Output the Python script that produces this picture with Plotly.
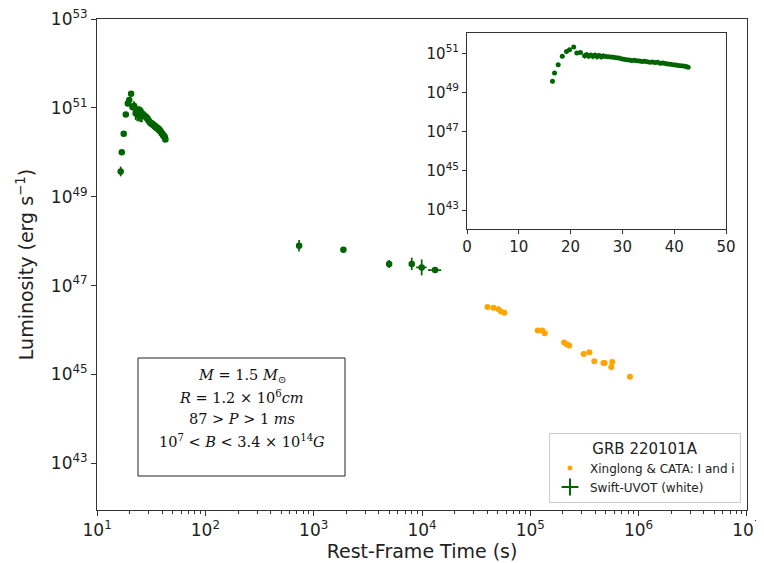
import plotly.graph_objects as go

# ---- data ----
# Swift-UVOT early (rest-frame s, log10 L)
uvot_t_early = [16.5, 16.9, 17.6, 18.4, 19.2, 19.8, 20.6, 21.2, 21.9, 22.7, 23.1, 23.5, 23.9, 24.3,
                24.7, 25.1, 25.5, 25.9, 26.3, 26.8, 27.3, 27.8, 28.3, 28.8, 29.3, 29.8, 30.3, 30.8,
                31.3, 31.8, 32.3, 32.8, 33.3, 33.8, 34.3, 34.8, 35.3, 35.8, 36.3, 36.8, 37.3, 37.8,
                38.3, 38.8, 39.3, 39.8, 40.3, 40.8, 41.3, 41.8, 42.3, 42.7]
uvot_logL_early = [49.57, 50.00, 50.42, 50.85, 51.10, 51.18, 51.32, 51.02, 51.05, 50.88, 50.93, 50.86,
                   50.91, 50.85, 50.90, 50.84, 50.89, 50.83, 50.87, 50.84, 50.83, 50.81, 50.80, 50.77,
                   50.76, 50.72, 50.70, 50.67, 50.66, 50.64, 50.65, 50.62, 50.61, 50.59, 50.60, 50.57,
                   50.55, 50.56, 50.53, 50.54, 50.50, 50.51, 50.48, 50.46, 50.45, 50.42, 50.41, 50.38,
                   50.37, 50.36, 50.33, 50.29]
uvot_err_early = [0.11, 0.04, 0.04, 0.04, 0.05, 0.05, 0.06, 0.08, 0.10, 0.15, 0.14, 0.16, 0.13, 0.15,
                  0.14, 0.16, 0.13, 0.15, 0.12, 0.08, 0.06, 0.05, 0.05, 0.05, 0.04, 0.04, 0.04, 0.04,
                  0.04, 0.04, 0.04, 0.04, 0.04, 0.04, 0.04, 0.04, 0.04, 0.04, 0.04, 0.04, 0.04, 0.04,
                  0.04, 0.04, 0.04, 0.04, 0.04, 0.04, 0.04, 0.04, 0.04, 0.04]
# Swift-UVOT late
uvot_t_late = [733, 1880, 4970, 8040, 9930, 13200]
uvot_logL_late = [47.90, 47.81, 47.49, 47.49, 47.41, 47.35]
uvot_err_late = [0.13, 0.03, 0.09, 0.14, 0.18, 0.03]
uvot_terr_late = [0, 0, 0, 0, 1100, 1850]

# Xinglong & CATA
opt_t = [40200, 45600, 50800, 53700, 57700, 117000, 129000, 136000, 205000, 217000, 229000,
         311000, 351000, 390000, 473000, 486000, 571000, 560000, 832000]
opt_logL = [46.52, 46.50, 46.47, 46.42, 46.39, 45.99, 45.99, 45.93, 45.72, 45.68, 45.65,
            45.46, 45.50, 45.30, 45.26, 45.26, 45.28, 45.17, 44.95]

x_tick_exp = [1, 2, 3, 4, 5, 6, 7]
y_tick_exp = [43, 45, 47, 49, 51, 53]
inset_y_tick_exp = [43, 45, 47, 49, 51]
inset_x_ticks = [0, 10, 20, 30, 40, 50]

box_lines = ["<i>M</i> = 1.5 <i>M</i><sub>⊙</sub>",
             "<i>R</i> = 1.2 × 10<sup>6</sup><i>cm</i>",
             "87 &gt; <i>P</i> &gt; 1 <i>ms</i>",
             "10<sup>7</sup> &lt; <i>B</i> &lt; 3.4 × 10<sup>14</sup><i>G</i>"]

GREEN = "#006400"
ORANGE = "#FFA500"


def to_lin(logs):
    return [10.0 ** v for v in logs]


def err_up(logs, errs):
    return [10.0 ** (v + e) - 10.0 ** v for v, e in zip(logs, errs)]


def err_dn(logs, errs):
    return [10.0 ** v - 10.0 ** (v - e) for v, e in zip(logs, errs)]


# the page body adds an 8px margin before the figure
OFF = 8
W, H = 764 - OFF, 563 - OFF
PL, PR, PT, PB = 97, 747, 19, 510   # plot area in screen pixels
pw, ph = PR - PL, PB - PT


def px_x(sx):
    return (sx - PL) / pw


def px_y(sy):
    return (PB - sy) / ph


fig = go.Figure()

t_all = uvot_t_early + uvot_t_late
l_all = uvot_logL_early + uvot_logL_late
e_all = uvot_err_early + uvot_err_late
terr_all = [0] * len(uvot_t_early) + uvot_terr_late

fig.add_trace(go.Scatter(
    x=opt_t, y=to_lin(opt_logL), mode="markers",
    marker=dict(color=ORANGE, size=6), showlegend=False, xaxis="x", yaxis="y"))

fig.add_trace(go.Scatter(
    x=t_all, y=to_lin(l_all), mode="markers",
    marker=dict(color=GREEN, size=6.5),
    error_y=dict(type="data", symmetric=False, array=err_up(l_all, e_all),
                 arrayminus=err_dn(l_all, e_all), color=GREEN, thickness=1.7, width=0),
    error_x=dict(type="data", array=terr_all, color=GREEN, thickness=1.7, width=0),
    showlegend=False, xaxis="x", yaxis="y"))

# inset
fig.add_trace(go.Scatter(
    x=uvot_t_early, y=to_lin(uvot_logL_early), mode="markers",
    marker=dict(color=GREEN, size=5),
    error_y=dict(type="data", symmetric=False,
                 array=err_up(uvot_logL_early, uvot_err_early),
                 arrayminus=err_dn(uvot_logL_early, uvot_err_early),
                 color=GREEN, thickness=1.2, width=0),
    showlegend=False, xaxis="x2", yaxis="y2"))

# legend entries
fig.add_trace(go.Scatter(x=[None], y=[None], mode="markers",
                         marker=dict(color=ORANGE, size=5),
                         name="Xinglong & CATA: I and i", xaxis="x", yaxis="y"))
fig.add_trace(go.Scatter(x=[None], y=[None], mode="markers",
                         marker=dict(color=GREEN, size=12, symbol="cross-thin",
                                     line=dict(color=GREEN, width=2)),
                         name="Swift-UVOT (white)", xaxis="x", yaxis="y"))

minor_vals = [float(k * 10 ** n) for n in range(1, 7) for k in range(2, 10)]

axis_common = dict(showline=True, linecolor="#333", linewidth=1, mirror=True,
                   ticks="outside", tickcolor="#333", showgrid=False, zeroline=False,
                   ticklabeloverflow="allow", automargin=False)

fig.update_layout(
    width=W, height=H,
    margin=dict(l=PL - OFF, r=W + OFF - PR, t=PT - OFF, b=H + OFF - PB, autoexpand=False),
    paper_bgcolor="white", plot_bgcolor="white",
    font=dict(family="DejaVu Sans", color="#222"),
    xaxis=dict(type="log", range=[0.999, 7.001], domain=[0, 1],
               tickvals=[10.0 ** e for e in x_tick_exp],
               ticktext=[f"10<sup>{e}</sup>" for e in x_tick_exp],
               ticklen=5, tickfont=dict(size=17),
               minor=dict(tickvals=minor_vals, ticks="outside", ticklen=3, tickcolor="#333"),
               title=dict(text="Rest-Frame Time (s)", font=dict(size=19), standoff=4),
               **axis_common),
    yaxis=dict(type="log", range=[41.95, 53.002], domain=[0, 1],
               tickvals=[10.0 ** e for e in y_tick_exp],
               ticktext=[f"10<sup>{e}</sup>" for e in y_tick_exp],
               ticklen=5, tickfont=dict(size=17),
               title=dict(text="Luminosity (erg s<sup>−1</sup>)", font=dict(size=19), standoff=12),
               **axis_common),
    xaxis2=dict(range=[0, 50], domain=[px_x(467), px_x(726)], anchor="y2",
                tickvals=inset_x_ticks, ticklen=4, tickfont=dict(size=15),
                **axis_common),
    yaxis2=dict(type="log", range=[42.03, 52.04], domain=[px_y(229), px_y(33)], anchor="x2",
                tickvals=[10.0 ** e for e in inset_y_tick_exp],
                ticktext=[f"10<sup>{e}</sup>" for e in inset_y_tick_exp],
                ticklen=4, tickfont=dict(size=15),
                **axis_common),
    legend=dict(x=px_x(741), y=px_y(503), xanchor="right", yanchor="bottom",
                bgcolor="white", bordercolor="#cccccc", borderwidth=1,
                font=dict(size=12, color="#222"),
                title=dict(text="GRB 220101A", font=dict(size=15), side="top center"),
                itemsizing="trace", tracegroupgap=0),
    showlegend=True,
)

# parameter box
fig.add_shape(type="rect", xref="paper", yref="paper",
              x0=px_x(138), x1=px_x(345), y0=px_y(476), y1=px_y(358),
              fillcolor="white", line=dict(color="#222", width=1))
for line_text, sy in zip(box_lines, [376, 397, 419, 441]):
    fig.add_annotation(
        xref="paper", yref="paper", x=px_x(241.5), y=px_y(sy),
        xanchor="center", yanchor="middle", showarrow=False,
        font=dict(family="DejaVu Serif", size=14.5, color="#111"),
        text=line_text)

fig.write_html("out.html")
